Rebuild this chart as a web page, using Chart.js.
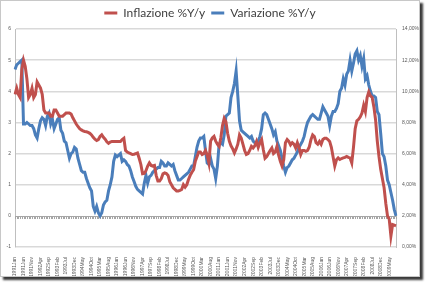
<!DOCTYPE html>
<html>
<head>
<meta charset="utf-8">
<script src="https://cdn.jsdelivr.net/npm/chart.js@4.4.1/dist/chart.umd.min.js"></script>
<style>
  html, body { margin: 0; padding: 0; background: #fff; }
  #frame { position: absolute; left: 0; top: 0; width: 418px; height: 275px; border: 1px solid #c8c8c8; box-shadow: 3px 3px 2px #3a3a3a; background: #fff; }
  canvas { display: block; }
</style>
</head>
<body>
<div id="frame"><canvas id="chart" width="418" height="275"></canvas></div>
<script>
// monthly categories, 1991Jan .. 2009Sep
const monthNames = ['Jan', 'Feb', 'Mar', 'Apr', 'May', 'Jun', 'Jul', 'Aug', 'Sep', 'Oct', 'Nov', 'Dec'];
const startYear = 1991;
const monthCount = 225;
const labelStep = 5;
const categories = [];
for (let i = 0; i < monthCount; i++) {
  categories.push(String(startYear + Math.floor(i / 12)) + monthNames[i % 12]);
}

// Inflazione %Y/y (left axis)
const inflazione = [
  3.9, 4.1, 3.9, 3.8, 4.7, 5.0, 4.8, 4.4, 3.8, 3.9,
  4.1, 3.8, 3.9, 4.3, 4.2, 4.1, 3.9, 3.4, 3.3, 3.3,
  3.3, 3.2, 3.2, 3.4, 3.4, 3.3, 3.2, 3.2, 3.2, 3.25,
  3.3, 3.3, 3.3, 3.27, 3.15, 3.05, 2.95, 2.87, 2.8, 2.76,
  2.73, 2.71, 2.7, 2.68, 2.65, 2.6, 2.52, 2.46, 2.42, 2.45,
  2.55, 2.6, 2.52, 2.46, 2.38, 2.33, 2.37, 2.39, 2.39, 2.39,
  2.39, 2.39, 2.39, 2.45, 2.49, 2.1, 2.05, 2.02, 2.0, 1.97,
  1.98, 2.0, 2.02, 1.85, 1.65, 1.35, 1.36, 1.45, 1.6, 1.7,
  1.62, 1.6, 1.62, 1.3, 1.12, 1.12, 1.2, 1.35, 1.38, 1.36,
  1.3, 1.1, 1.0, 0.9, 0.85, 0.8, 0.8, 0.82, 0.85, 1.0,
  0.92, 1.0, 1.17, 1.3, 1.4, 1.48, 1.75, 1.9, 2.05, 2.05,
  1.97, 2.0, 2.1, 1.95, 1.7, 2.4, 2.5, 2.55, 2.4, 2.3,
  2.23, 2.5, 2.9, 3.13, 3.02, 2.65, 2.4, 2.25, 2.15, 2.02,
  2.15, 2.3, 2.6, 2.5, 2.3, 2.1, 1.97, 2.0, 2.1, 2.23,
  2.18, 2.25, 2.39, 2.2, 2.35, 2.45, 2.12, 1.85, 1.9, 2.0,
  2.1, 2.18, 2.0, 2.05, 2.23, 1.95, 1.75, 1.6, 1.8, 2.35,
  2.45, 2.39, 2.28, 2.35, 2.3, 2.18, 2.35, 2.2, 1.97, 2.1,
  2.1, 2.07, 2.1, 2.21, 2.45, 2.6, 2.55, 2.35, 2.3, 2.39,
  2.3, 2.45, 2.49, 2.49, 2.45, 2.39, 2.2, 1.9, 1.6, 1.8,
  1.86, 1.81, 1.84, 1.86, 1.88, 1.91, 1.88, 1.86, 1.7, 2.2,
  2.8, 3.05, 3.1, 3.18, 3.3, 3.55, 3.35, 3.8, 3.98, 3.85,
  3.8, 3.5, 3.08, 2.4, 1.9, 1.5, 1.2, 0.9, 0.4, 0.0,
  -0.1, -0.65, -0.28, -0.3, -0.32
];

// Variazione %Y/y (right axis, percent)
const variazione = [
  11.4, 11.7, 11.8, 11.9, 12.0, 7.9, 7.9, 8.0, 7.9, 7.8,
  7.8, 7.6, 7.2, 7.0, 7.6, 8.1, 8.3, 8.2, 7.8, 8.4,
  8.6, 7.9, 8.2, 7.6, 7.9, 8.2, 8.3, 7.5, 7.3, 6.8,
  6.7, 6.2, 5.7, 6.0, 6.1, 6.4, 6.3, 5.7, 5.3, 4.9,
  4.8, 4.8, 4.4, 4.1, 3.8, 3.6, 2.6, 2.3, 2.6, 2.2,
  2.0, 2.2, 2.7, 2.9, 3.0, 3.6, 4.0, 4.5, 5.5, 5.9,
  5.8, 5.9, 6.0, 5.5, 5.6, 5.5, 5.3, 5.2, 4.9, 4.5,
  4.2, 3.9, 3.7, 3.6, 3.5, 3.4, 4.1, 4.6, 4.1, 4.5,
  4.6, 4.8, 4.9, 5.0, 5.1, 5.1, 5.5, 5.4, 5.2, 5.2,
  5.4, 5.3, 5.2, 5.3, 4.9, 4.6, 4.3, 4.3, 4.4, 4.5,
  4.6, 4.7, 4.8, 5.0, 5.2, 5.2, 5.8, 6.4, 6.8, 7.0,
  7.0, 7.1, 6.2, 5.4, 5.3, 5.7, 5.2, 5.0, 4.4, 5.2,
  6.6, 6.7, 6.6, 7.2, 8.4, 8.5, 8.6, 9.6, 10.0, 10.5,
  11.3, 9.7, 8.1, 7.5, 7.4, 7.3, 7.2, 7.1, 7.0, 7.1,
  6.8, 6.7, 6.7, 6.8, 7.1, 7.6, 8.5, 8.6, 8.5, 8.2,
  7.9, 7.6, 7.2, 7.4, 6.8, 6.5, 6.2, 5.7, 5.2, 4.8,
  5.1, 5.2, 5.4, 5.6, 5.7, 5.9, 6.1, 6.4, 6.6, 6.8,
  7.1, 7.6, 8.0, 8.2, 8.4, 8.5, 8.4, 8.3, 8.2, 8.2,
  8.6, 9.0, 8.8, 8.6, 8.4, 7.8, 8.4, 8.7, 8.7, 8.9,
  9.2, 10.0, 10.2, 10.8, 10.4, 11.1, 11.3, 12.0, 11.3, 11.8,
  12.4, 12.6, 12.0, 12.3, 11.6, 12.1, 10.8, 11.0, 10.4, 10.0,
  9.7, 9.7, 9.6, 8.7, 8.5, 7.3, 6.0, 5.8, 5.2, 4.3,
  4.0, 3.5, 3.0, 2.4, 2.0
];

const leftTicks = { min: -1, max: 6, step: 1 };
const rightTicks = { min: 0, max: 14, step: 2 };

const tickColor = '#595959';
const gridColor = '#d9d9d9';

// horizontal axis crosses at 0, with a small tick for every month
const zeroAxis = {
  id: 'zeroAxis',
  beforeDatasetsDraw(chart) {
    const { ctx, scales: { x, y } } = chart;
    const y0 = Math.round(y.getPixelForValue(0)) + 0.5;
    ctx.save();
    ctx.strokeStyle = '#a6a6a6';
    ctx.lineWidth = 1;
    ctx.beginPath();
    ctx.moveTo(x.left, y0);
    ctx.lineTo(x.right, y0);
    for (let i = 0; i < categories.length; i++) {
      const px = Math.round(x.getPixelForValue(i)) + 0.5;
      ctx.moveTo(px, y0);
      ctx.lineTo(px, y0 + 2.5);
    }
    ctx.stroke();
    ctx.restore();
  }
};

new Chart(document.getElementById('chart').getContext('2d'), {
  type: 'line',
  data: {
    labels: categories,
    datasets: [
      {
        label: 'Inflazione %Y/y',
        data: inflazione,
        yAxisID: 'y',
        borderColor: '#c0504d',
        backgroundColor: '#c0504d',
        borderWidth: 3,
        pointRadius: 0,
        tension: 0
      },
      {
        label: 'Variazione %Y/y',
        data: variazione,
        yAxisID: 'y1',
        borderColor: '#4a7ebb',
        backgroundColor: '#4a7ebb',
        borderWidth: 3,
        pointRadius: 0,
        tension: 0
      }
    ]
  },
  options: {
    responsive: false,
    animation: false,
    layout: { padding: { top: 0, left: 0, right: 0, bottom: 0 } },
    plugins: {
      tooltip: { enabled: false },
      legend: {
        position: 'top',
        labels: {
          boxWidth: 13,
          boxHeight: 3,
          padding: 6,
          color: '#404040',
          font: { family: 'Lato', size: 12 },
          generateLabels(chart) {
            return chart.data.datasets.map((ds, i) => ({
              text: ds.label,
              fillStyle: ds.borderColor,
              strokeStyle: ds.borderColor,
              lineWidth: 0,
              fontColor: '#404040',
              datasetIndex: i
            }));
          }
        }
      }
    },
    scales: {
      x: {
        offset: false,
        grid: { display: false },
        border: { display: false },
        ticks: {
          autoSkip: false,
          minRotation: 90,
          maxRotation: 90,
          padding: 2,
          color: tickColor,
          font: { family: 'Liberation Sans', size: 5 },
          callback: (v, i) => (i % labelStep === 0 ? categories[i] : null)
        },
        afterFit: (s) => { s.height = 29; }
      },
      y: {
        position: 'left',
        min: leftTicks.min,
        max: leftTicks.max,
        ticks: { stepSize: leftTicks.step, padding: 4, color: tickColor, font: { family: 'Liberation Sans', size: 5 } },
        grid: {
          color: (c) => (c.tick && c.tick.value === 0 ? 'rgba(0,0,0,0)' : gridColor),
          lineWidth: 1.5,
          drawTicks: false
        },
        border: { color: '#bfbfbf', width: 1 },
        afterFit: (s) => { s.width = 14; }
      },
      y1: {
        position: 'right',
        min: rightTicks.min,
        max: rightTicks.max,
        ticks: {
          stepSize: rightTicks.step,
          padding: 6,
          color: tickColor,
          font: { family: 'Liberation Sans', size: 5 },
          callback: (v) => v.toFixed(2).replace('.', ',') + '%'
        },
        grid: { drawOnChartArea: false, drawTicks: false },
        border: { color: '#bfbfbf', width: 1 },
        afterFit: (s) => { s.width = 23; }
      }
    }
  },
  plugins: [zeroAxis]
});
</script>
</body>
</html>
